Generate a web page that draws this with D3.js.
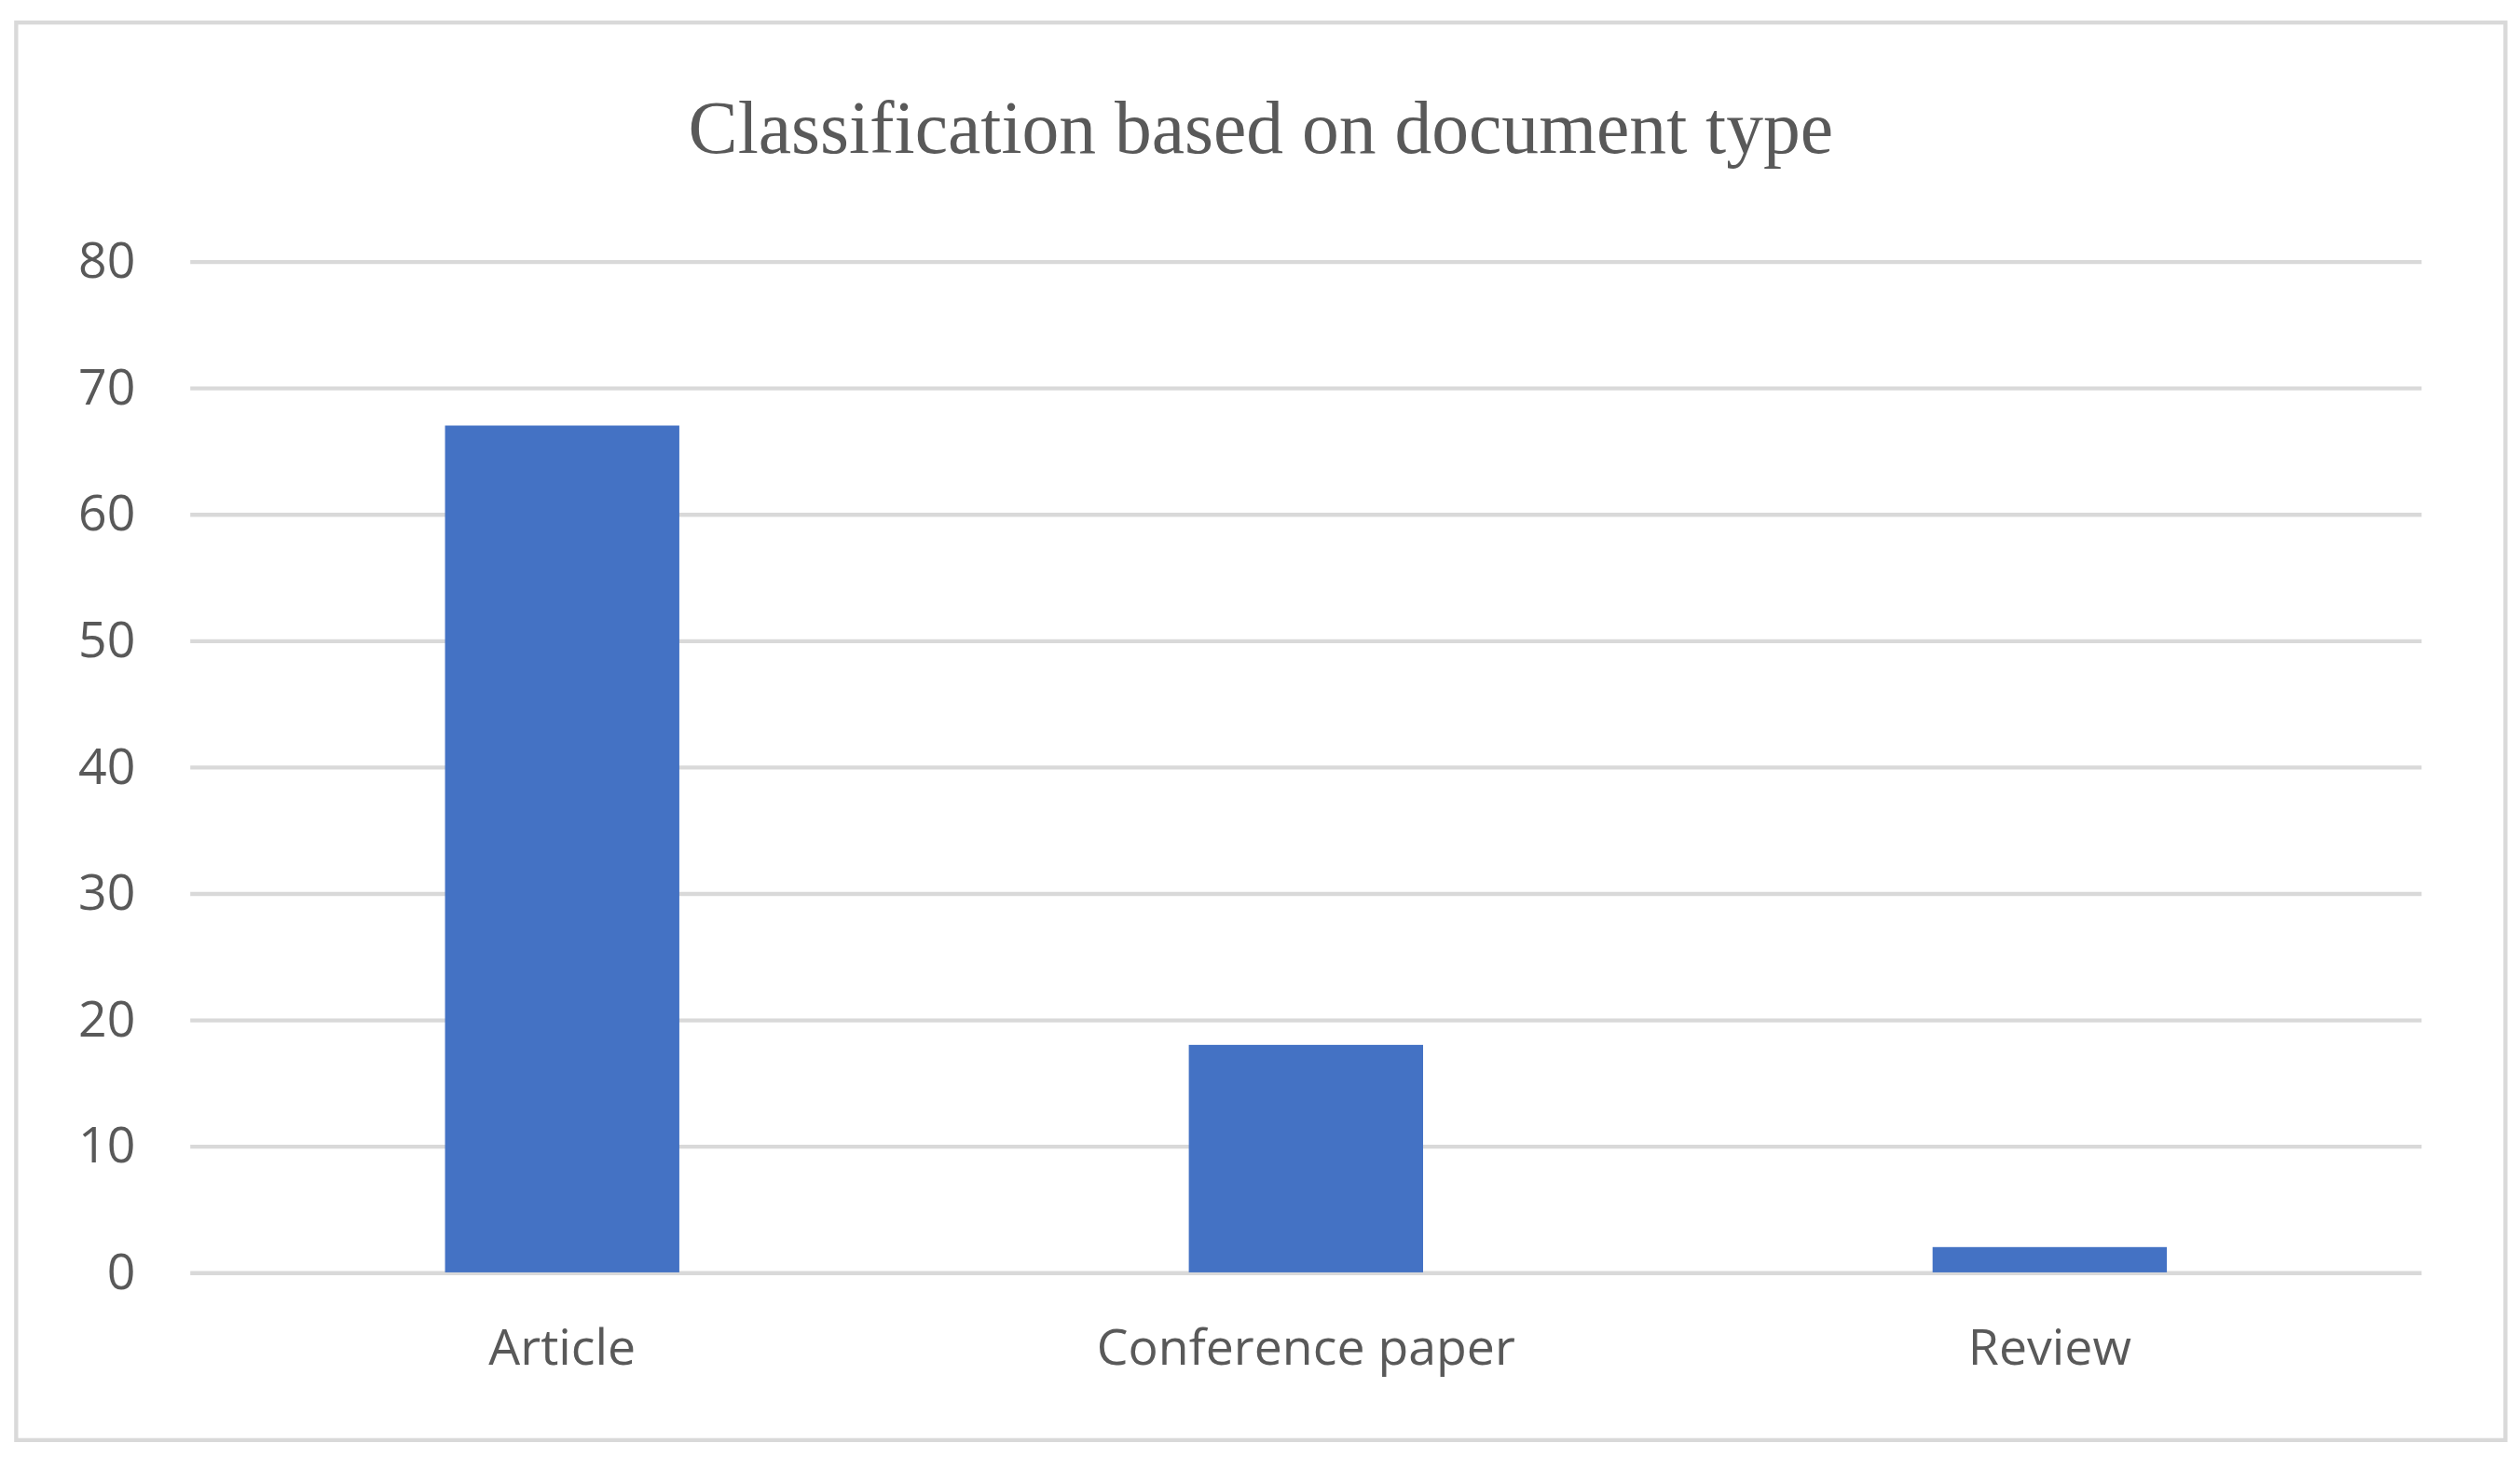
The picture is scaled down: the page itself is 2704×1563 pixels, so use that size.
<!DOCTYPE html>
<html>
<head>
<meta charset="utf-8">
<script src="https://cdn.jsdelivr.net/npm/d3@7"></script>
<style>
  body { margin: 0; background: #fff; }
  svg { display: block; }
</style>
</head>
<body>
<svg width="2704" height="1563" viewBox="0 0 1563 903.5"></svg>
<script>
const categories = ["Article", "Conference paper", "Review"];
const counts = [67, 18, 2];
const yTicks = [0, 10, 20, 30, 40, 50, 60, 70, 80];
const title = "Classification  based on document type";

const svg = d3.select("svg");
const margin = {left: 118, right: 61, top: 162, bottom: 114};
const width = 1563 - margin.left - margin.right,
      height = 789 - margin.top;

// outer frame
svg.append("rect")
  .attr("x", 10).attr("y", 14).attr("width", 1544).attr("height", 879)
  .attr("fill", "#fff").attr("stroke", "#d9d9d9").attr("stroke-width", 2.5);

svg.append("text")
  .attr("x", 782).attr("y", 95)
  .attr("text-anchor", "middle")
  .attr("font-family", "Liberation Serif, serif")
  .attr("font-size", 46)
  .attr("fill", "#595959")
  .text(title);

const g = svg.append("g").attr("transform", `translate(${margin.left},${margin.top})`);

const x = d3.scaleBand().domain(categories).range([0, width])
  .paddingInner(0.685).paddingOuter(0.3425);
const y = d3.scaleLinear().domain([0, 80]).range([height, 0]);

// gridlines + y labels
const yAxis = g.append("g")
  .call(d3.axisLeft(y).tickValues(yTicks).tickSize(-width).tickPadding(34));
yAxis.select(".domain").remove();
yAxis.selectAll(".tick line").attr("stroke", "#d9d9d9").attr("stroke-width", 2.5);
yAxis.selectAll(".tick text")
  .attr("font-family", "Open Sans, sans-serif").attr("font-size", 31).attr("fill", "#595959");

g.selectAll(".bar")
  .data(categories.map((c, i) => ({c, v: counts[i]})))
  .join("rect")
  .attr("class", "bar")
  .attr("x", d => x(d.c))
  .attr("width", x.bandwidth())
  .attr("y", d => y(d.v))
  .attr("height", d => y(0) - y(d.v))
  .attr("fill", "#4472c4");

const xAxis = g.append("g").attr("transform", `translate(0,${height})`)
  .call(d3.axisBottom(x).tickSize(0).tickPadding(35));
xAxis.select(".domain").remove();
xAxis.selectAll(".tick text")
  .attr("font-family", "Open Sans, sans-serif").attr("font-size", 31).attr("fill", "#595959");
</script>
</body>
</html>
